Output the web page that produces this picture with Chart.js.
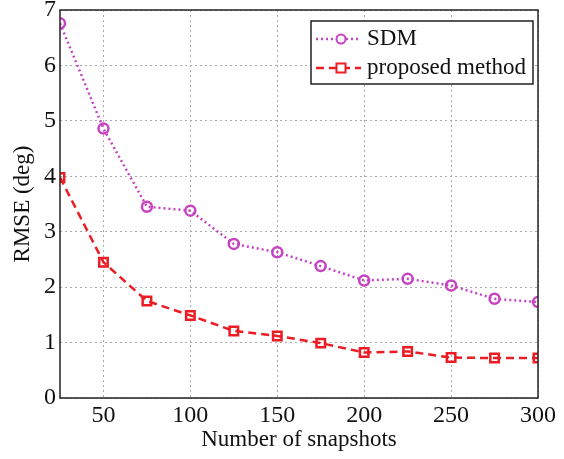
<!DOCTYPE html>
<html>
<head>
<meta charset="utf-8">
<script src="https://cdn.jsdelivr.net/npm/chart.js@4.4.1/dist/chart.umd.min.js"></script>
<style>
  html, body { margin: 0; padding: 0; background: #fff; }
  #wrap { position: relative; width: 564px; height: 459px; }
</style>
</head>
<body>
<div id="wrap"><canvas id="chart" width="564" height="459"></canvas></div>
<script>
// snapshots on the x axis
const snapshots = [25, 50, 75, 100, 125, 150, 175, 200, 225, 250, 275, 300];
const sdmRmse = [6.76, 4.86, 3.45, 3.38, 2.78, 2.63, 2.38, 2.12, 2.15, 2.03, 1.79, 1.73];
const proposedRmse = [3.98, 2.45, 1.75, 1.49, 1.21, 1.12, 0.99, 0.82, 0.84, 0.73, 0.72, 0.72];
const xTicks = [50, 100, 150, 200, 250, 300];
const yTicks = [0, 1, 2, 3, 4, 5, 6, 7];

const SDM_COLOR = "#c644c2";
const RED = "#ec1c24";
const FONT = "'Liberation Serif', 'Times New Roman', serif";

const toPoints = (ys) => snapshots.map((x, i) => ({ x: x, y: ys[i] }));

// box round the plot area
const frame = {
    id: "frame",
    afterDraw(chart) {
        const { ctx, chartArea: a } = chart;
        ctx.save();
        ctx.strokeStyle = "#222";
        ctx.lineWidth = 1.5;
        ctx.strokeRect(a.left, a.top, a.right - a.left, a.bottom - a.top);
        ctx.restore();
    }
};

// matlab style legend in the top right corner
const boxLegend = {
    id: "boxLegend",
    afterDraw(chart) {
        const { ctx, chartArea: a } = chart;
        const w = 222, h = 63;
        const x0 = a.right - 5 - w, y0 = a.top + 11;
        ctx.save();
        ctx.fillStyle = "#fff";
        ctx.fillRect(x0, y0, w, h);
        ctx.strokeStyle = "#222";
        ctx.lineWidth = 1.5;
        ctx.strokeRect(x0, y0, w, h);
        chart.data.datasets.forEach((ds, i) => {
            const cy = y0 + 18 + i * 29;
            ctx.strokeStyle = ds.borderColor;
            ctx.lineWidth = ds.borderWidth;
            ctx.setLineDash(ds.borderDash);
            ctx.beginPath();
            ctx.moveTo(x0 + 5, cy);
            ctx.lineTo(x0 + 50, cy);
            ctx.stroke();
            ctx.setLineDash([]);
            ctx.fillStyle = "#fff";
            ctx.lineWidth = 2;
            ctx.beginPath();
            if (ds.pointStyle === "circle") {
                ctx.arc(x0 + 30, cy, 4.5, 0, Math.PI * 2);
            } else {
                ctx.rect(x0 + 25.5, cy - 4.5, 9, 9);
            }
            ctx.fill();
            ctx.stroke();
            ctx.fillStyle = "#111";
            ctx.font = "23px " + FONT;
            ctx.textBaseline = "middle";
            ctx.fillText(ds.label, x0 + 56, cy);
        });
        ctx.restore();
    }
};

new Chart(document.getElementById("chart"), {
    type: "line",
    data: {
        datasets: [
            {
                label: "SDM",
                data: toPoints(sdmRmse),
                borderColor: SDM_COLOR,
                backgroundColor: "#fff",
                borderWidth: 2.5,
                borderDash: [2, 3],
                pointStyle: "circle",
                pointRadius: 5,
                pointBorderWidth: 2.5,
                pointBackgroundColor: "rgba(255,255,255,0)",
                pointBorderColor: SDM_COLOR,
                tension: 0
            },
            {
                label: "proposed method",
                data: toPoints(proposedRmse),
                borderColor: RED,
                backgroundColor: "#fff",
                borderWidth: 2.5,
                borderDash: [8, 5],
                pointStyle: "rect",
                pointRadius: 6,
                pointBorderWidth: 2.5,
                pointBackgroundColor: "rgba(255,255,255,0)",
                pointBorderColor: RED,
                tension: 0
            }
        ]
    },
    options: {
        responsive: false,
        animation: false,
        layout: { padding: { top: 10, right: 26, left: 0, bottom: 0 } },
        plugins: {
            legend: { display: false },
            tooltip: { enabled: false }
        },
        scales: {
            x: {
                type: "linear",
                min: 25,
                max: 300,
                afterBuildTicks: (axis) => { axis.ticks = xTicks.map((v) => ({ value: v })); },
                afterFit: (axis) => { axis.height = 61; },
                grid: { color: "#aaa", lineWidth: 1, drawTicks: false },
                border: { display: false, dash: [2, 3] },
                ticks: { color: "#111", font: { family: FONT, size: 24 }, padding: 3, maxRotation: 0 },
                title: {
                    display: true,
                    text: "Number of snapshots",
                    color: "#111",
                    font: { family: FONT, size: 23 },
                    padding: 5
                }
            },
            y: {
                min: 0,
                max: 7,
                afterBuildTicks: (axis) => { axis.ticks = yTicks.map((v) => ({ value: v })); },
                afterFit: (axis) => {
                    axis.width = 60;
                    axis.paddingTop = 0;
                    axis.paddingBottom = 0;
                },
                grid: { color: "#aaa", lineWidth: 1, drawTicks: false },
                border: { display: false, dash: [2, 3] },
                ticks: { color: "#111", font: { family: FONT, size: 24 }, padding: 4 },
                title: {
                    display: true,
                    text: "RMSE (deg)",
                    color: "#111",
                    font: { family: FONT, size: 23 },
                    padding: 9
                }
            }
        }
    },
    plugins: [frame, boxLegend]
});
</script>
</body>
</html>
